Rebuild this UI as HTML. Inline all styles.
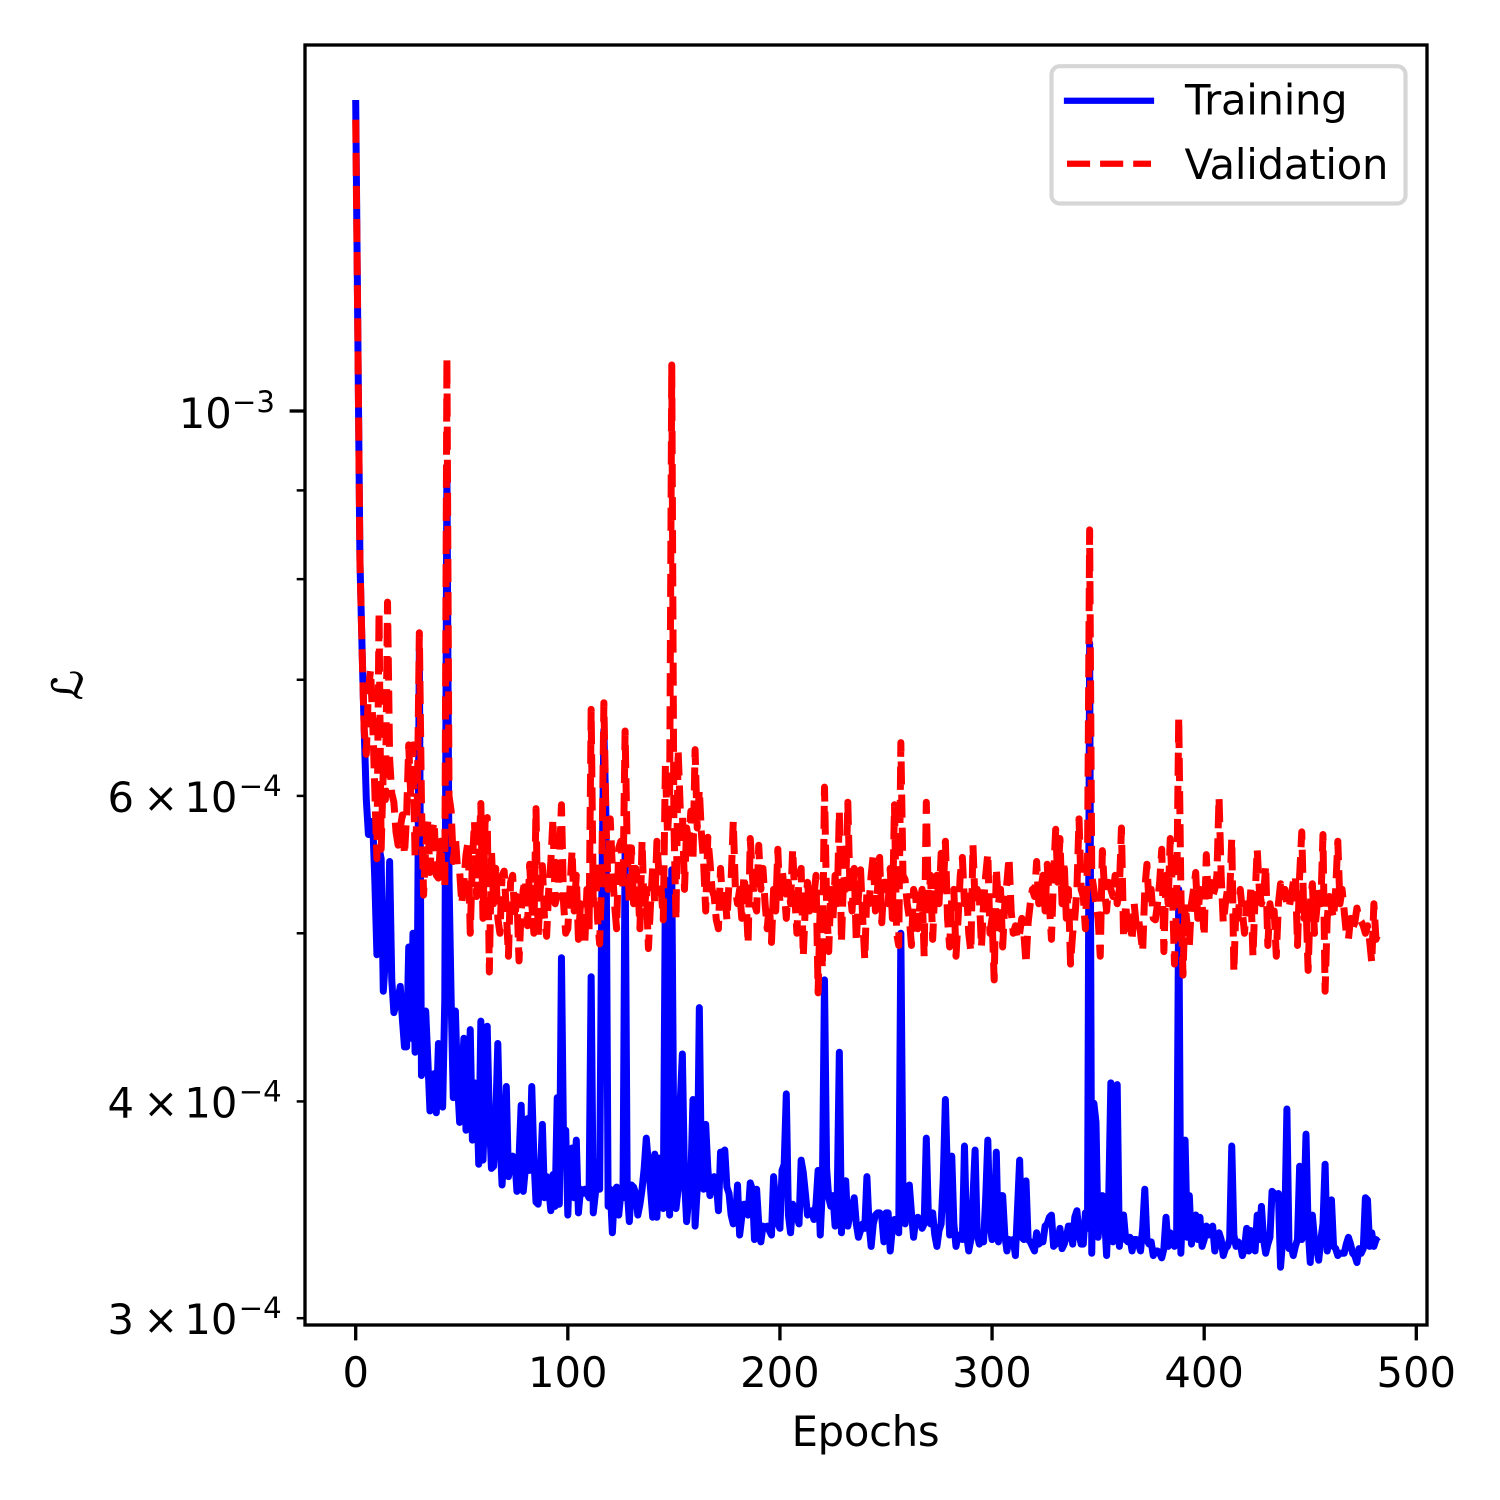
<!DOCTYPE html>
<html lang="en">
<head>
<meta charset="utf-8">
<title>Training and validation loss</title>
<style>
html,body{margin:0;padding:0;background:#fff;}
svg{display:block;}
text{font-family:"DejaVu Sans","Liberation Sans",sans-serif;fill:#000;}
</style>
</head>
<body>
<svg id="chart" xmlns="http://www.w3.org/2000/svg" width="1500" height="1500" viewBox="0 0 1500 1500">
  <rect x="0" y="0" width="1500" height="1500" fill="#fff"/>
  <g id="series"></g>
  <g id="x-ticks"></g>
  <g id="y-ticks"></g>
  <rect x="305" y="45" width="1122" height="1280" fill="none" stroke="#000" stroke-width="3.33" stroke-linejoin="miter"/>
  <text x="865.5" y="1446" font-size="41.67" text-anchor="middle" letter-spacing="-0.25">Epochs</text>
  <text transform="translate(82,685) rotate(-90)" font-size="41.67" text-anchor="middle" font-style="italic" stroke="#000" stroke-width="0.7">ℒ</text>
  <g>
    <rect x="1051.5" y="66.2" width="354" height="137.3" rx="8.3" ry="8.3" fill="#fff" fill-opacity="0.8" stroke="#d6d6d6" stroke-width="4.17"/>
    <line x1="1067" y1="100.7" x2="1151" y2="100.7" stroke="#0000ff" stroke-width="6.25" stroke-linecap="square"/>
    <text x="1185" y="114.5" font-size="41.67" letter-spacing="-0.25">Training</text>
    <line x1="1067" y1="163.7" x2="1151" y2="163.7" stroke="#ff0000" stroke-width="6.25" stroke-dasharray="23.1 10"/>
    <text x="1184.5" y="179" font-size="41.67" letter-spacing="-0.2">Validation</text>
  </g>
</svg>
<script>
var lossUnit = 1e-4;
var trainingLoss = [
15.11,11.1,8.2,7.3,6.55,5.97,5.70,5.80,5.80,5.37,
4.86,5.6,5.52,4.63,4.83,4.77,5.50,4.70,4.50,4.55,
4.58,4.66,4.46,4.30,4.30,4.91,4.35,5.00,4.27,4.58,
7.28,4.14,4.35,4.51,4.23,3.95,4.07,4.15,3.94,4.32,
4.10,3.97,4.58,9.3,5.37,4.58,4.02,4.51,4.10,3.89,
4.12,4.35,3.85,3.88,4.40,3.80,4.10,4.07,3.68,4.45,
3.70,4.02,4.42,3.91,3.66,3.67,3.91,4.32,3.81,3.58,
3.76,4.08,3.62,3.68,3.72,3.71,3.55,3.71,3.98,3.55,
3.66,3.91,3.65,4.08,3.71,3.50,3.49,3.61,3.88,3.52,
3.62,3.56,3.46,3.63,3.48,4.02,3.49,4.84,3.76,3.85,
3.44,3.75,3.76,3.52,3.80,3.45,3.56,3.54,3.56,3.54,
3.52,4.72,3.45,3.54,3.69,3.56,5.23,6.55,5.82,3.48,
3.56,3.36,3.54,3.57,3.44,3.54,3.52,5.59,3.56,3.41,
3.58,3.57,3.54,3.44,3.49,3.56,3.66,3.81,3.68,3.56,
3.43,3.73,3.43,3.71,3.56,3.47,5.37,3.76,3.44,5.44,
3.71,3.47,3.56,4.0,4.26,3.61,3.41,3.52,3.61,4.01,
3.39,3.56,4.53,3.61,3.56,3.88,3.66,3.53,3.59,3.62,
3.59,3.46,3.74,3.74,3.75,3.57,3.54,3.44,3.40,3.41,
3.58,3.35,3.43,3.49,3.49,3.44,3.59,3.56,3.33,3.56,
3.40,3.32,3.39,3.38,3.39,3.37,3.35,3.62,3.49,3.40,
3.38,3.65,3.68,4.04,3.44,3.36,3.49,3.47,3.43,3.40,
3.70,3.64,3.54,3.44,3.45,3.46,3.42,3.49,3.65,3.35,
3.56,4.70,3.66,3.52,3.48,3.53,3.39,3.52,4.27,3.36,
3.56,3.60,3.39,3.44,3.47,3.52,3.40,3.34,3.37,3.40,
3.38,3.62,3.40,3.30,3.40,3.44,3.45,3.45,3.43,3.32,
3.45,3.45,3.28,3.38,3.42,3.40,3.36,5.00,3.54,3.40,
3.56,3.58,3.45,3.34,3.42,3.43,3.42,3.38,3.40,3.81,
3.43,3.40,3.45,3.35,3.30,3.37,3.40,3.61,4.01,3.61,
3.35,3.72,3.40,3.30,3.35,3.34,3.33,3.77,3.35,3.28,
3.33,3.52,3.75,3.35,3.31,3.33,3.32,3.52,3.80,3.40,
3.33,3.34,3.74,3.32,3.53,3.53,3.35,3.28,3.33,3.32,
3.33,3.26,3.47,3.70,3.34,3.33,3.60,3.33,3.32,3.30,
3.28,3.36,3.31,3.32,3.32,3.39,3.40,3.43,3.44,3.30,
3.31,3.32,3.38,3.29,3.31,3.34,3.39,3.39,3.31,3.43,
3.46,3.35,3.31,3.31,3.45,3.38,7.35,3.27,3.99,3.89,
3.34,3.47,3.53,3.44,3.26,3.52,4.10,3.32,3.33,4.09,
3.30,3.40,3.44,3.33,3.32,3.34,3.28,3.33,3.33,3.31,
3.28,3.38,3.56,3.33,3.31,3.32,3.26,3.28,3.28,3.27,
3.25,3.29,3.43,3.30,3.36,3.34,3.30,3.33,5.30,3.27,
3.52,3.80,3.34,3.53,3.31,3.40,3.44,3.33,3.43,3.30,
3.33,3.39,3.35,3.38,3.39,3.28,3.33,3.36,3.33,3.26,
3.29,3.30,3.33,3.77,3.35,3.30,3.32,3.31,3.26,3.29,
3.38,3.28,3.37,3.35,3.28,3.44,3.33,3.48,3.33,3.27,
3.31,3.34,3.55,3.54,3.53,3.54,3.21,3.33,3.40,3.96,
3.29,3.30,3.26,3.30,3.33,3.67,3.33,3.45,3.83,3.38,
3.23,3.44,3.33,3.29,3.24,3.33,3.40,3.68,3.28,3.33,
3.51,3.30,3.29,3.26,3.27,3.27,3.27,3.31,3.34,3.31,
3.27,3.26,3.23,3.29,3.27,3.29,3.52,3.51,3.30,3.36,
3.30,3.33,3.32
];
var validationLoss = [
14.72,11.1,8.2,7.3,6.55,6.34,6.91,7.09,6.64,6.05,
5.52,7.66,5.59,6.21,5.97,7.76,6.3,6.02,5.95,5.72,
5.62,5.75,5.85,5.55,5.85,6.42,5.98,6.42,5.53,5.9,
7.45,5.95,5.26,5.6,5.8,5.42,5.72,5.8,5.40,5.38,
5.65,5.35,5.33,10.73,6.0,5.88,5.5,5.68,5.45,5.43,
5.2,5.35,5.55,5.65,5.0,5.5,5.8,5.25,5.5,5.94,
5.1,5.8,5.83,4.75,5.58,5.2,5.45,5.1,5.0,5.4,
5.43,5.15,4.85,5.35,5.4,5.1,5.25,4.82,5.15,5.3,
5.37,5.05,5.48,5.2,5.0,5.9,4.97,5.3,5.47,5.1,
4.98,5.3,5.5,5.82,5.2,5.25,5.5,5.93,5.2,5.0,
5.03,5.3,5.58,5.15,5.4,4.96,5.2,5.1,4.93,5.3,
5.0,6.73,5.2,5.5,5.1,4.93,5.4,6.79,5.8,5.3,
5.82,5.45,5.2,5.03,5.6,5.65,5.3,6.54,5.6,5.2,
5.6,5.2,5.45,5.35,5.03,5.65,5.15,5.3,4.9,5.2,
5.45,5.2,5.65,5.4,5.3,5.09,6.25,5.7,6.0,10.63,
5.8,5.09,6.38,5.9,5.88,5.3,5.75,5.65,5.88,5.5,
6.38,5.75,6.05,5.7,5.5,5.15,5.68,5.5,5.3,5.25,
5.09,5.03,5.45,5.2,5.3,5.09,5.35,5.37,5.8,5.3,
5.2,5.3,5.1,5.4,5.25,4.93,5.67,5.4,5.2,5.15,
5.62,5.3,5.45,5.2,5.03,5.2,4.94,5.3,5.15,5.59,
5.2,5.45,5.3,5.1,5.35,5.2,5.59,5.25,5.0,5.4,
5.45,4.85,5.2,5.35,5.15,5.3,5.25,5.4,4.62,5.2,
4.77,6.07,5.2,4.88,5.3,5.1,5.4,5.2,5.88,4.94,
5.4,5.3,5.95,5.3,5.15,5.45,4.94,5.25,5.44,5.1,
4.83,5.3,5.2,5.4,5.55,5.15,5.3,5.53,5.07,5.35,
5.35,5.2,5.45,5.1,5.93,5.0,4.92,6.44,5.4,5.37,
5.2,5.1,4.92,5.3,5.25,5.03,5.2,5.3,4.85,5.95,
5.2,5.4,4.96,5.3,5.4,5.2,5.56,5.3,5.65,5.1,
4.91,5.25,5.3,4.85,5.1,5.4,5.53,5.2,5.3,5.0,
4.88,5.62,5.2,5.3,5.25,4.91,5.2,5.4,5.56,5.0,
5.1,4.7,5.45,5.2,5.3,4.91,5.2,5.35,5.53,5.15,
5.0,5.05,4.96,5.0,5.1,5.0,4.8,5.07,5.2,5.3,
5.25,5.5,5.2,5.3,5.4,5.15,5.48,5.2,4.96,5.4,
5.74,5.35,5.67,5.2,5.5,5.1,5.3,4.8,5.0,5.1,
5.3,5.82,5.3,5.25,5.03,5.5,8.54,5.4,5.3,5.2,
5.1,4.85,5.58,5.3,5.15,5.35,5.3,5.25,5.4,5.2,
5.3,5.75,4.97,5.2,5.0,5.1,4.95,5.2,5.05,5.1,
5.0,4.88,5.3,5.48,5.2,5.3,5.1,5.09,5.2,5.35,
5.59,4.88,5.4,5.2,5.67,5.3,4.8,5.2,6.66,5.3,
4.73,5.2,5.05,4.92,5.2,5.3,5.42,5.1,5.3,5.2,
4.98,5.55,5.2,5.35,5.25,5.3,5.4,5.99,5.4,5.07,
5.2,5.3,5.25,5.67,4.75,5.2,5.1,5.3,5.15,5.0,
5.2,5.1,5.3,4.85,5.25,5.59,5.3,5.2,5.25,5.47,
4.92,5.2,5.1,5.15,4.85,5.2,5.34,5.25,5.3,5.2,
5.17,5.25,5.35,5.4,4.92,5.4,5.72,5.1,5.2,4.76,
5.2,5.34,5.0,5.15,5.3,5.2,5.7,4.63,5.1,5.25,
5.17,5.1,5.3,5.65,5.2,5.3,5.15,5.0,4.96,5.1,
5.03,5.07,5.17,5.1,5.08,5.05,5.0,5.05,4.95,4.81,
5.2,4.96,5.0
];
var xTickValues = [0, 100, 200, 300, 400, 500];
var xTickLabels = ["0", "100", "200", "300", "400", "500"];
var yMajorTickValues = [1e-3];
var yMinorTickValues = [3e-4, 4e-4, 5e-4, 6e-4, 7e-4, 8e-4, 9e-4];
var yMinorLabelMantissas = [3, 4, 6];

var SVG_NS = 'http://www.w3.org/2000/svg';

function xScale(epoch) {
  return 355.7 + 2.1212 * epoch;
}
function yScale(loss) {
  return 411 - 1735 * (Math.log10(loss) + 3);
}
function make(tag, parent) {
  var el = document.createElementNS(SVG_NS, tag);
  parent.appendChild(el);
  return el;
}
function linePath(values) {
  var d = '';
  for (var i = 0; i < values.length; i++) {
    d += (i ? 'L' : 'M') + xScale(i).toFixed(2) + ' ' + yScale(values[i] * lossUnit).toFixed(2);
  }
  return d;
}
function placeText(el, x, y, size, content) {
  el.setAttribute('x', x);
  el.setAttribute('y', y);
  el.setAttribute('font-size', size);
  el.textContent = content;
}

var seriesGroup = document.getElementById('series');

var trainingLine = make('path', seriesGroup);


trainingLine.setAttribute('d', linePath(trainingLoss));
trainingLine.setAttribute('fill', 'none');
trainingLine.setAttribute('stroke', '#0000ff');
trainingLine.setAttribute('stroke-width', '7');
trainingLine.setAttribute('stroke-linejoin', 'round');
trainingLine.setAttribute('stroke-linecap', 'butt');

var validationLine = make('path', seriesGroup);


validationLine.setAttribute('d', linePath(validationLoss));
validationLine.setAttribute('fill', 'none');
validationLine.setAttribute('stroke', '#ff0000');
validationLine.setAttribute('stroke-width', '7');
validationLine.setAttribute('stroke-linejoin', 'round');
validationLine.setAttribute('stroke-dasharray', '23.1 10');

var xGroup = document.getElementById('x-ticks');
xTickValues.forEach(function (value, i) {
  var px = xScale(value);
  var tick = make('line', xGroup);
  
  
  tick.setAttribute('x1', px);
  tick.setAttribute('x2', px);
  tick.setAttribute('y1', 1325);
  tick.setAttribute('y2', 1340.4);
  tick.setAttribute('stroke', '#000');
  tick.setAttribute('stroke-width', '3.33');
  var label = make('text', xGroup);
  
  
  label.setAttribute('text-anchor', 'middle');
  placeText(label, px, 1387, 41.67, xTickLabels[i]);
});

var yGroup = document.getElementById('y-ticks');
yMajorTickValues.forEach(function (value) {
  var py = yScale(value);
  var tick = make('line', yGroup);
  
  
  tick.setAttribute('x1', 305);
  tick.setAttribute('x2', 289.6);
  tick.setAttribute('y1', py);
  tick.setAttribute('y2', py);
  tick.setAttribute('stroke', '#000');
  tick.setAttribute('stroke-width', '3.33');
  var base = make('text', yGroup);
  
  
  placeText(base, 178.7, py + 17, 41.67, '10');
  var power = make('text', yGroup);
  
  
  placeText(power, 232, py + 1, 29.17, '\u2212' + Math.abs(Math.round(Math.log10(value))));
});

yMinorTickValues.forEach(function (value) {
  var py = yScale(value);
  var tick = make('line', yGroup);
  
  
  tick.setAttribute('x1', 305);
  tick.setAttribute('x2', 296.7);
  tick.setAttribute('y1', py);
  tick.setAttribute('y2', py);
  tick.setAttribute('stroke', '#000');
  tick.setAttribute('stroke-width', '2.5');
});

yMinorLabelMantissas.forEach(function (mantissa) {
  var py = yScale(mantissa * lossUnit);
  var digit = make('text', yGroup);
  
  
  placeText(digit, 107.5, py + 16, 41.67, String(mantissa));
  var times = make('text', yGroup);
  
  
  placeText(times, 143.4, py + 16, 41.67, '\u00d7');
  var base = make('text', yGroup);
  
  
  placeText(base, 184.4, py + 16, 41.67, '10');
  var power = make('text', yGroup);
  
  
  placeText(power, 238.7, py, 29.17, '\u22124');
});
</script>
</body>
</html>
